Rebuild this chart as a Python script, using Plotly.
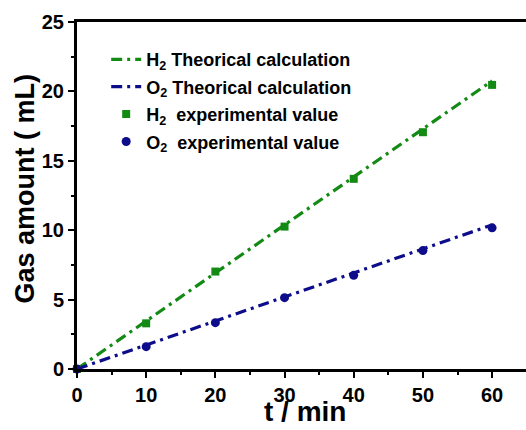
import plotly.graph_objects as go

# Sampling times (min)
t_min = [0, 10, 20, 30, 40, 50, 60]

# Theoretical gas volumes (mL)
h2_theory = [0, 3.46, 6.92, 10.38, 13.84, 17.30, 20.76]
o2_theory = [0, 1.73, 3.46, 5.19, 6.92, 8.65, 10.38]

# Measured gas volumes (mL)
h2_measured = [0, 3.29, 7.02, 10.26, 13.70, 17.06, 20.47]
o2_measured = [0, 1.61, 3.34, 5.14, 6.75, 8.53, 10.17]

x_ticks = [0, 10, 20, 30, 40, 50, 60]
y_ticks = [0, 5, 10, 15, 20, 25]

GREEN = "#138a13"
NAVY = "#0d0d8c"
FONT = "Liberation Sans, Arial, sans-serif"
DASHDOT = "11px,5px,3px,5px"

WIDTH, HEIGHT = 526, 430
MARGIN = dict(l=77, r=0, t=22, b=61)
PLOT_H = HEIGHT - MARGIN["t"] - MARGIN["b"]

fig = go.Figure()
fig.add_trace(go.Scatter(
    x=t_min, y=h2_theory, mode="lines",
    name="H<sub>2</sub> Theorical calculation", legendgroup="a",
    line=dict(color=GREEN, width=3.2, dash=DASHDOT),
    cliponaxis=False,
))
fig.add_trace(go.Scatter(
    x=t_min, y=o2_theory, mode="lines",
    name="O<sub>2</sub> Theorical calculation", legendgroup="b",
    line=dict(color=NAVY, width=3.2, dash=DASHDOT),
    cliponaxis=False,
))
fig.add_trace(go.Scatter(
    x=t_min, y=h2_measured, mode="markers",
    name="H<sub>2</sub>\u00a0 experimental value", legendgroup="c",
    marker=dict(symbol="square", size=8, color=GREEN),
    cliponaxis=False,
))
fig.add_trace(go.Scatter(
    x=t_min, y=o2_measured, mode="markers",
    name="O<sub>2</sub>\u00a0 experimental value", legendgroup="d",
    marker=dict(symbol="circle", size=9, color=NAVY),
    cliponaxis=False,
))

axis_common = dict(
    showgrid=False, zeroline=False,
    showline=True, linecolor="black", linewidth=3,
    ticks="outside", ticklen=6, tickwidth=2.2, tickcolor="black",
    tickfont=dict(family=FONT, size=20, color="black", weight="bold"),
    automargin=False,
)

fig.update_xaxes(
    **axis_common,
    range=[0, 64.9], mirror=True,
    tickvals=x_ticks,
    minor=dict(ticks="outside", ticklen=3, tickwidth=2, tickcolor="black", dtick=5, tick0=0),
)
fig.update_yaxes(
    **axis_common,
    range=[0, 25], mirror=False,
    tickvals=y_ticks,
    minor=dict(ticks="outside", ticklen=3, tickwidth=2, tickcolor="black", dtick=2.5, tick0=0),
)

# Axis titles placed relative to the plotting area
fig.add_annotation(
    text="t / min", xref="paper", yref="paper", x=0.507, y=-MARGIN["b"] / PLOT_H,
    xanchor="center", yanchor="bottom", yshift=1, showarrow=False,
    font=dict(family=FONT, size=28, color="black", weight="bold"),
)
fig.add_annotation(
    text="Gas amount ( mL)", xref="paper", yref="paper", x=0, y=0.52,
    xanchor="center", yanchor="middle", xshift=-52, textangle=-90, showarrow=False,
    font=dict(family=FONT, size=27, color="black", weight="bold"),
)

fig.update_layout(
    width=WIDTH, height=HEIGHT,
    margin=MARGIN,
    paper_bgcolor="white", plot_bgcolor="white",
    showlegend=True,
    legend=dict(
        x=0.065, y=0.945, xanchor="left", yanchor="top",
        bgcolor="rgba(0,0,0,0)", borderwidth=0,
        font=dict(family=FONT, size=18, color="black", weight="bold"),
        tracegroupgap=1, itemwidth=30,
    ),
)

fig.write_html("out.html")
